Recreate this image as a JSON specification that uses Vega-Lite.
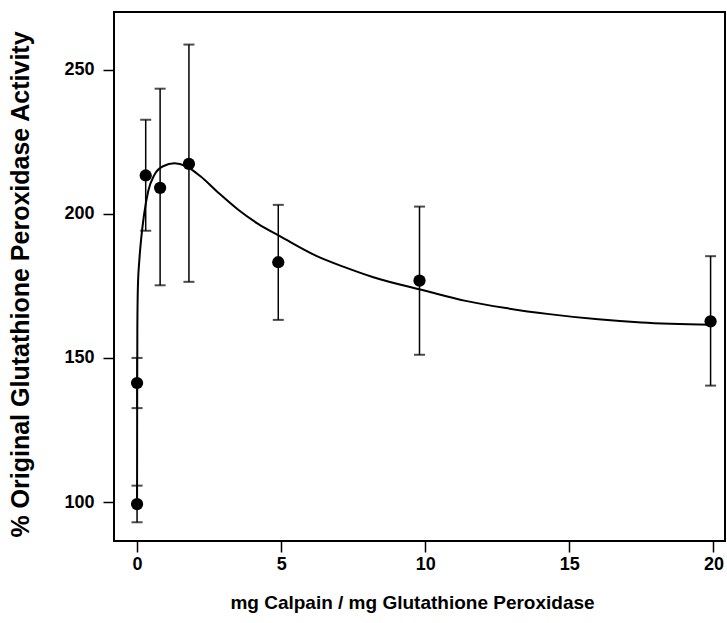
{
  "$schema": "https://vega.github.io/schema/vega-lite/v6.json",
  "width": 611,
  "height": 529,
  "autosize": {"type": "none"},
  "padding": {"left": 114, "top": 12, "right": 2, "bottom": 82},
  "background": "white",
  "datasets": {
    "pts": [
      {"dose": 0, "activity": 99.3, "lo": 93.0, "hi": 105.7},
      {"dose": 0, "activity": 141.3, "lo": 132.6, "hi": 150.0},
      {"dose": 0.3, "activity": 213.3, "lo": 194.1, "hi": 232.6},
      {"dose": 0.8, "activity": 209.0, "lo": 175.2, "hi": 243.4},
      {"dose": 1.8, "activity": 217.3, "lo": 176.4, "hi": 258.7},
      {"dose": 4.9, "activity": 183.2, "lo": 163.2, "hi": 203.1},
      {"dose": 9.8, "activity": 176.8, "lo": 151.1, "hi": 202.5},
      {"dose": 19.9, "activity": 162.7, "lo": 140.4, "hi": 185.3}
    ],
    "fit": [
      {"dose": 0, "activity": 98},
      {"dose": 0.003, "activity": 130},
      {"dose": 0.01, "activity": 160},
      {"dose": 0.03, "activity": 175},
      {"dose": 0.08, "activity": 184},
      {"dose": 0.15, "activity": 192},
      {"dose": 0.24, "activity": 199.5},
      {"dose": 0.39, "activity": 208},
      {"dose": 0.6, "activity": 213.5},
      {"dose": 0.9, "activity": 216.5},
      {"dose": 1.3, "activity": 217.5},
      {"dose": 1.7, "activity": 216.5},
      {"dose": 2.2, "activity": 213},
      {"dose": 2.8, "activity": 207.5},
      {"dose": 3.5, "activity": 201.5},
      {"dose": 4.2, "activity": 196.5},
      {"dose": 5.0, "activity": 192},
      {"dose": 6.2, "activity": 185.5},
      {"dose": 7.2, "activity": 181.5},
      {"dose": 8.2, "activity": 178},
      {"dose": 10.0, "activity": 173.3},
      {"dose": 11.4, "activity": 169.8},
      {"dose": 12.8, "activity": 167.3},
      {"dose": 14.3, "activity": 165.2},
      {"dose": 16.0, "activity": 163.4},
      {"dose": 17.5, "activity": 162.3},
      {"dose": 19.9, "activity": 161.5}
    ]
  },
  "encoding": {
    "x": {
      "field": "dose",
      "type": "quantitative",
      "scale": {"domain": [-0.8, 20.4], "nice": false, "zero": false},
      "axis": {
        "values": [0, 5, 10, 15, 20],
        "title": "mg Calpain / mg Glutathione Peroxidase",
        "titleFontSize": 19,
        "titleX": 298,
        "titleY": 52,
        "titleBaseline": "top",
        "labelPadding": 3
      }
    },
    "y": {
      "field": "activity",
      "type": "quantitative",
      "scale": {"domain": [86.5, 270], "nice": false, "zero": false},
      "axis": {
        "values": [100, 150, 200, 250],
        "title": "% Original Glutathione Peroxidase Activity",
        "titleFontSize": 25,
        "titleX": -94,
        "titleY": 272,
        "titleBaseline": "middle",
        "labelPadding": 9
      }
    }
  },
  "layer": [
    {
      "data": {"name": "fit"},
      "mark": {"type": "line", "color": "black", "strokeWidth": 2, "interpolate": "monotone"}
    },
    {
      "data": {"name": "pts"},
      "mark": {"type": "errorbar", "color": "black", "thickness": 1.5, "ticks": {"size": 11, "thickness": 2, "color": "black"}},
      "encoding": {
        "y": {"field": "lo", "type": "quantitative"},
        "y2": {"field": "hi"}
      }
    },
    {
      "data": {"name": "pts"},
      "mark": {"type": "point", "filled": true, "color": "black", "opacity": 1, "size": 150}
    }
  ],
  "config": {
    "view": {"stroke": "black", "strokeWidth": 2},
    "axis": {
      "domain": false,
      "grid": false,
      "ticks": true,
      "tickColor": "black",
      "tickWidth": 1.5,
      "tickSize": 11,
      "labelFont": "Liberation Sans",
      "labelFontWeight": "bold",
      "labelFontSize": 18,
      "labelColor": "black",
      "titleFont": "Liberation Sans",
      "titleFontWeight": "bold",
      "titleColor": "black"
    }
  }
}
